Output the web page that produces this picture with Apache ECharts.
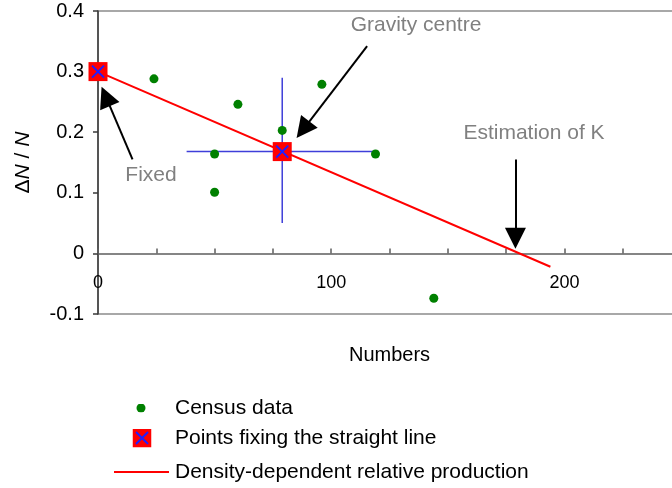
<!DOCTYPE html>
<html>
<head>
<meta charset="utf-8">
<script src="https://cdn.jsdelivr.net/npm/echarts@6/dist/echarts.min.js"></script>
<style>
  html, body { margin: 0; padding: 0; background: #fff; }
  #chart { width: 672px; height: 488px; }
</style>
</head>
<body>
<div id="chart"></div>
<script>
// Census observations: population numbers and relative production ΔN / N
const censusNumbers = [24, 50, 50, 60, 79, 96, 119, 144];
const censusRates = [0.288, 0.164, 0.101, 0.246, 0.203, 0.279, 0.164, -0.074];

// Points fixing the straight line: the fixed intercept and the gravity centre
const fixingNumbers = [0, 79];
const fixingRates = [0.3, 0.168];

// Spread of the census data around the gravity centre
const spreadNumbers = [38, 118];
const spreadRates = [0.05, 0.29];

// Ends of the density-dependent relative production line
const lineNumbers = [0, 194];
const lineRates = [0.3, -0.022];

// Axis ticks
const xLabelled = [0, 100, 200];
const yTicks = [-0.1, 0, 0.1, 0.2, 0.3, 0.4];

const FONT = "'Liberation Sans', Arial, sans-serif";
const zip = (xs, ys) => xs.map((x, i) => [x, ys[i]]);
const svgIcon = body => 'image://data:image/svg+xml;charset=utf-8,' + encodeURIComponent(body);

// Legend keys, drawn centred in a 56 px wide slot
const dotIcon = svgIcon(
  "<svg xmlns='http://www.w3.org/2000/svg' width='56' height='9'>" +
  "<circle cx='27' cy='4.5' r='4.5' fill='#008000'/></svg>"
);
const squareIcon = svgIcon(
  "<svg xmlns='http://www.w3.org/2000/svg' width='19' height='19'>" +
  "<rect width='19' height='19' fill='#ff0000'/>" +
  "<path d='M3.5,3.5L15.5,15.5M15.5,3.5L3.5,15.5' stroke='#1f1fff' stroke-width='2'/></svg>"
);
const lineIcon = svgIcon(
  "<svg xmlns='http://www.w3.org/2000/svg' width='56' height='14'>" +
  "<line x1='0' y1='7' x2='55' y2='7' stroke='#ff0000' stroke-width='2'/></svg>"
);

const arrowLine = { color: '#000', width: 2, type: 'solid' };
const axisGrey = '#5e5e5e';

const chart = echarts.init(document.getElementById('chart'), null, { renderer: 'canvas' });

const legendBase = {
  orient: 'vertical',
  left: 114,
  padding: 0,
  itemWidth: 56,
  selectedMode: false,
  textStyle: { fontSize: 21, color: '#000', fontFamily: FONT, lineHeight: 22 }
};

chart.setOption({
  animation: false,
  backgroundColor: '#fff',
  textStyle: { fontFamily: FONT },
  grid: {
    left: 98, right: -9, top: 11, bottom: 174,
    show: true, borderColor: '#8c8c8c', borderWidth: 1.5,
    containLabel: false, outerBoundsMode: 'none'
  },
  xAxis: {
    type: 'value',
    min: 0, max: 250, interval: 25,
    name: 'Numbers',
    nameLocation: 'middle',
    nameGap: 31,
    nameTextStyle: { fontSize: 20, color: '#000' },
    axisLine: { show: true, onZero: true, lineStyle: { color: axisGrey, width: 1.5 } },
    axisTick: { show: true, inside: true, length: 5, lineStyle: { color: axisGrey, width: 1.5 } },
    axisLabel: {
      fontSize: 18, color: '#000', margin: -40,
      formatter: v => (xLabelled.indexOf(v) >= 0 ? String(v) : '')
    },
    splitLine: { show: false }
  },
  yAxis: {
    type: 'value',
    min: yTicks[0], max: yTicks[yTicks.length - 1], interval: 0.1,
    name: 'Δ{i|N} / {i|N}',
    nameLocation: 'middle',
    nameGap: 64,
    nameTextStyle: {
      fontSize: 21, color: '#000',
      rich: { i: { fontSize: 21, fontStyle: 'italic', color: '#000' } }
    },
    axisLine: { show: true, onZero: false, lineStyle: { color: '#3a3a3a', width: 1.5 } },
    axisTick: { show: true, length: 5, lineStyle: { color: '#3a3a3a', width: 1.5 } },
    axisLabel: {
      fontSize: 20, color: '#000', margin: 14,
      formatter: v => {
        const r = Math.round(v * 10) / 10;
        return r === 0 ? '0' : r.toFixed(1);
      }
    },
    splitLine: { show: false }
  },
  legend: [
    Object.assign({}, legendBase, {
      top: 397, itemHeight: 9,
      data: [{ name: 'Census data', icon: dotIcon }]
    }),
    Object.assign({}, legendBase, {
      top: 427, itemHeight: 19,
      data: [{ name: 'Points fixing the straight line', icon: squareIcon }]
    }),
    Object.assign({}, legendBase, {
      top: 461, itemHeight: 14,
      data: [{ name: 'Density-dependent relative production', icon: lineIcon }]
    })
  ],
  graphic: [
    { type: 'text', x: 416, y: 25, silent: true,
      style: { text: 'Gravity centre', fontSize: 21, fontFamily: FONT, fill: '#808080', align: 'center', verticalAlign: 'middle' } },
    { type: 'text', x: 534, y: 133, silent: true,
      style: { text: 'Estimation of K', fontSize: 21, fontFamily: FONT, fill: '#808080', align: 'center', verticalAlign: 'middle' } },
    { type: 'text', x: 151, y: 175, silent: true,
      style: { text: 'Fixed', fontSize: 21, fontFamily: FONT, fill: '#808080', align: 'center', verticalAlign: 'middle' } }
  ],
  series: [
    {
      name: 'spread-x', type: 'line', silent: true,
      data: zip(spreadNumbers, [fixingRates[1], fixingRates[1]]),
      symbol: 'none', lineStyle: { color: '#3f3fd9', width: 1.5 }, z: 2
    },
    {
      name: 'spread-y', type: 'line', silent: true,
      data: zip([fixingNumbers[1], fixingNumbers[1]], spreadRates),
      symbol: 'none', lineStyle: { color: '#3f3fd9', width: 1.5 }, z: 2
    },
    {
      name: 'Density-dependent relative production', type: 'line', silent: true,
      data: zip(lineNumbers, lineRates),
      symbol: 'none', lineStyle: { color: '#ff0000', width: 2 }, itemStyle: { color: '#ff0000' }, z: 3
    },
    {
      name: 'Census data', type: 'scatter', silent: true,
      data: zip(censusNumbers, censusRates),
      symbol: 'circle', symbolSize: 9,
      itemStyle: { color: '#008000', opacity: 1 }, z: 4,
      markLine: {
        silent: true,
        symbol: ['none', 'triangle'],
        symbolSize: 21,
        label: { show: false },
        lineStyle: arrowLine,
        itemStyle: { color: '#000' },
        emphasis: { disabled: true },
        data: [
          [{ coord: [115.4, 0.342] }, { coord: [87.9, 0.204] }],
          [{ coord: [179, 0.155] }, { coord: [179, 0.025] }],
          [{ coord: [14.8, 0.155] }, { coord: [3.3, 0.259] }]
        ]
      }
    },
    {
      name: 'Points fixing the straight line', type: 'scatter', silent: true,
      data: zip(fixingNumbers, fixingRates),
      symbol: 'rect', symbolSize: 19,
      itemStyle: { color: '#ff0000', borderWidth: 0, opacity: 1 }, z: 5
    },
    {
      name: 'fixing-cross', type: 'scatter', silent: true,
      data: zip(fixingNumbers, fixingRates),
      symbol: 'path://M0,0L10,10M10,0L0,10', symbolSize: 12,
      itemStyle: { color: 'rgba(0,0,0,0)', borderColor: '#1f1fff', borderWidth: 2, opacity: 1 }, z: 6
    }
  ]
});
</script>
</body>
</html>
